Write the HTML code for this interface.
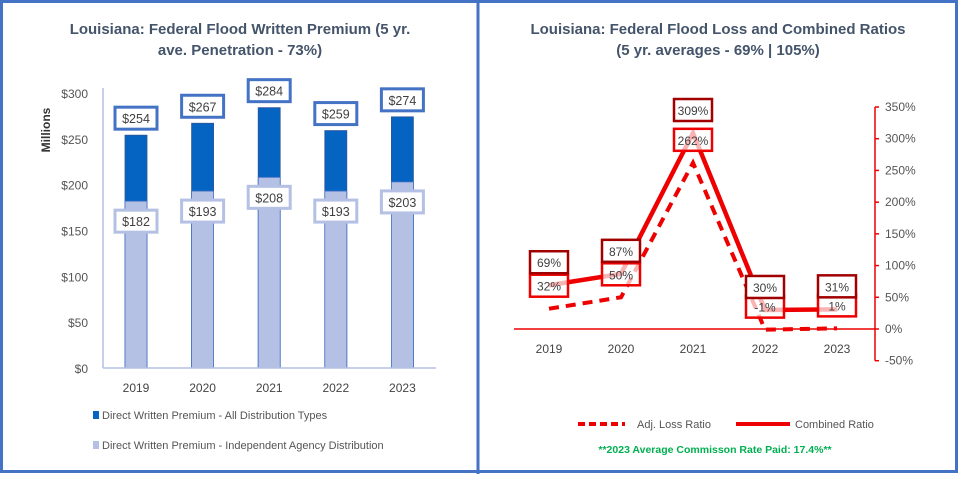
<!DOCTYPE html>
<html><head><meta charset="utf-8"><style>
body{margin:0;background:#fff;font-family:"Liberation Sans",sans-serif}
svg text{font-family:"Liberation Sans",sans-serif}
</style></head><body>
<svg width="958" height="474" xmlns="http://www.w3.org/2000/svg">
<rect x="1.5" y="1.5" width="955" height="470" fill="#fff" stroke="#4472c4" stroke-width="3"/>
<line x1="478" y1="0" x2="478" y2="474" stroke="#4472c4" stroke-width="3"/>
<g id="left">
<text x="240" y="34" text-anchor="middle" font-size="15" font-weight="bold" fill="#44546a">Louisiana: Federal Flood Written Premium (5 yr.</text>
<text x="240" y="55" text-anchor="middle" font-size="15" font-weight="bold" fill="#44546a">ave. Penetration - 73%)</text>
<text transform="translate(50,130) rotate(-90)" text-anchor="middle" font-size="12" font-weight="bold" fill="#333">Millions</text>
</g>
<g id="right">
<text x="718" y="34" text-anchor="middle" font-size="15" font-weight="bold" fill="#44546a">Louisiana: Federal Flood Loss and Combined Ratios</text>
<text x="718" y="55" text-anchor="middle" font-size="15" font-weight="bold" fill="#44546a">(5 yr. averages - 69% | 105%)</text>
<line x1="578" y1="424" x2="625" y2="424" stroke="#e00" stroke-width="4" stroke-dasharray="7,4"/>
<text x="637" y="428" font-size="11" fill="#555">Adj. Loss Ratio</text>
<line x1="736" y1="424" x2="790" y2="424" stroke="#e00" stroke-width="4"/>
<text x="795" y="428" font-size="11" fill="#555">Combined Ratio</text>
<text x="715" y="453" text-anchor="middle" font-size="10.5" font-weight="bold" fill="#00b050">**2023 Average Commisson Rate Paid: 17.4%**</text>
</g>
</svg>
<script>
const NS="http://www.w3.org/2000/svg";
const years=["2019","2020","2021","2022","2023"];
const allPremium=[254,267,284,259,274];
const agencyPremium=[182,193,208,193,203];
const premiumTicks=[0,50,100,150,200,250,300];
const lossRatio=[32,50,262,-1,1];
const combinedRatio=[69,87,309,30,31];
const ratioTicks=[-50,0,50,100,150,200,250,300,350];

function mk(p,tag,attrs,txt){const e=document.createElementNS(NS,tag);for(const k in attrs)e.setAttribute(k,attrs[k]);if(txt!==undefined)e.textContent=txt;p.appendChild(e);return e;}
const L=document.getElementById('left'),R=document.getElementById('right');
const yL=v=>368-v*(275/300);
const xL=i=>136+i*66.6;
premiumTicks.forEach(t=>{const e=mk(L,'text',{x:88,y:yL(t)+5,'text-anchor':'end','font-size':12,fill:'#555'},'$'+t);

});
let ax=mk(L,'line',{x1:103,y1:88,x2:103,y2:368,stroke:'#b4c0e4','stroke-width':1.5});


years.forEach((y,i)=>{
 const x=xL(i),w=22;
 let b=mk(L,'rect',{x:x-w/2,y:yL(allPremium[i]),width:w,height:yL(0)-yL(allPremium[i]),fill:'#0563c1',stroke:'#2f5597','stroke-width':0.8});
 
 
 let a=mk(L,'rect',{x:x-w/2,y:yL(agencyPremium[i]),width:w,height:yL(0)-yL(agencyPremium[i]),fill:'#b4c0e4',stroke:'#4472c4','stroke-width':0.8});
 
 
 const cy1=yL(allPremium[i])-17;
 let r1=mk(L,'rect',{x:x-21,y:cy1-11,width:42,height:22,fill:'#fff',stroke:'#4472c4','stroke-width':3});
 
 
 let t1=mk(L,'text',{x:x,y:cy1+5,'text-anchor':'middle','font-size':12.5,fill:'#404040'},'$'+allPremium[i]);
 
 
 const cy2=yL(agencyPremium[i])+20;
 let r2=mk(L,'rect',{x:x-21,y:cy2-11,width:42,height:22,fill:'#fff',stroke:'#b4c0e4','stroke-width':3});
 
 
 let t2=mk(L,'text',{x:x,y:cy2+5,'text-anchor':'middle','font-size':12.5,fill:'#404040'},'$'+agencyPremium[i]);
 
 
 let yt=mk(L,'text',{x:x,y:392,'text-anchor':'middle','font-size':12,fill:'#444'},y);
 
 
});
let xa=mk(L,'line',{x1:103,y1:368,x2:436,y2:368,stroke:'#b4c0e4','stroke-width':1.5});


[["#0563c1","Direct Written Premium - All Distribution Types",419],["#b4c0e4","Direct Written Premium - Independent Agency Distribution",449]].forEach((l,i)=>{
 let s=mk(L,'rect',{x:93,y:l[2]-8,width:6,height:8,fill:l[0]});
 
 
 let t=mk(L,'text',{x:102,y:l[2],'font-size':11,fill:'#555'},l[1]);
 
 
});
const yR=v=>329-v*(222/350);
const xR=i=>549+i*72;
let ra=mk(R,'line',{x1:875,y1:yR(350),x2:875,y2:yR(-50),stroke:'#e00','stroke-width':1.5});


ratioTicks.forEach(t=>{
 let tk=mk(R,'line',{x1:875,y1:yR(t),x2:879,y2:yR(t),stroke:'#e00','stroke-width':1.5});
 
 
 let e=mk(R,'text',{x:885,y:yR(t)+4,'font-size':12,fill:'#555'},t+'%');
 
 
});
let zl=mk(R,'line',{x1:514,y1:yR(0),x2:875,y2:yR(0),stroke:'#e00','stroke-width':1.5});


years.forEach((y,i)=>{let e=mk(R,'text',{x:xR(i),y:353,'text-anchor':'middle','font-size':12,fill:'#444'},y);

});
const pts=a=>a.map((v,i)=>xR(i)+','+yR(v)).join(' ');
let lp=mk(R,'polyline',{points:pts(lossRatio),fill:'none',stroke:'#e00','stroke-width':4,'stroke-dasharray':'10,7'});


let cp=mk(R,'polyline',{points:pts(combinedRatio),fill:'none',stroke:'#e00','stroke-width':4.5});


years.forEach((y,i)=>{
 const x=xR(i);
 const c2=yR(lossRatio[i])-23;
 let r2=mk(R,'rect',{x:x-19,y:c2-11,width:38,height:22,fill:'#fff','fill-opacity':0.7,stroke:'#e00','stroke-width':2.5});
 
 
 let t2=mk(R,'text',{x:x,y:c2+5,'text-anchor':'middle','font-size':12,fill:'#404040'},lossRatio[i]+'%');
 
 
 const c1=yR(combinedRatio[i])-23;
 let r1=mk(R,'rect',{x:x-19,y:c1-11,width:38,height:22,fill:'#fff',stroke:'#a00000','stroke-width':2.5});
 
 
 let t1=mk(R,'text',{x:x,y:c1+5,'text-anchor':'middle','font-size':12,fill:'#404040'},combinedRatio[i]+'%');
 
 
});
</script>
</body></html>
